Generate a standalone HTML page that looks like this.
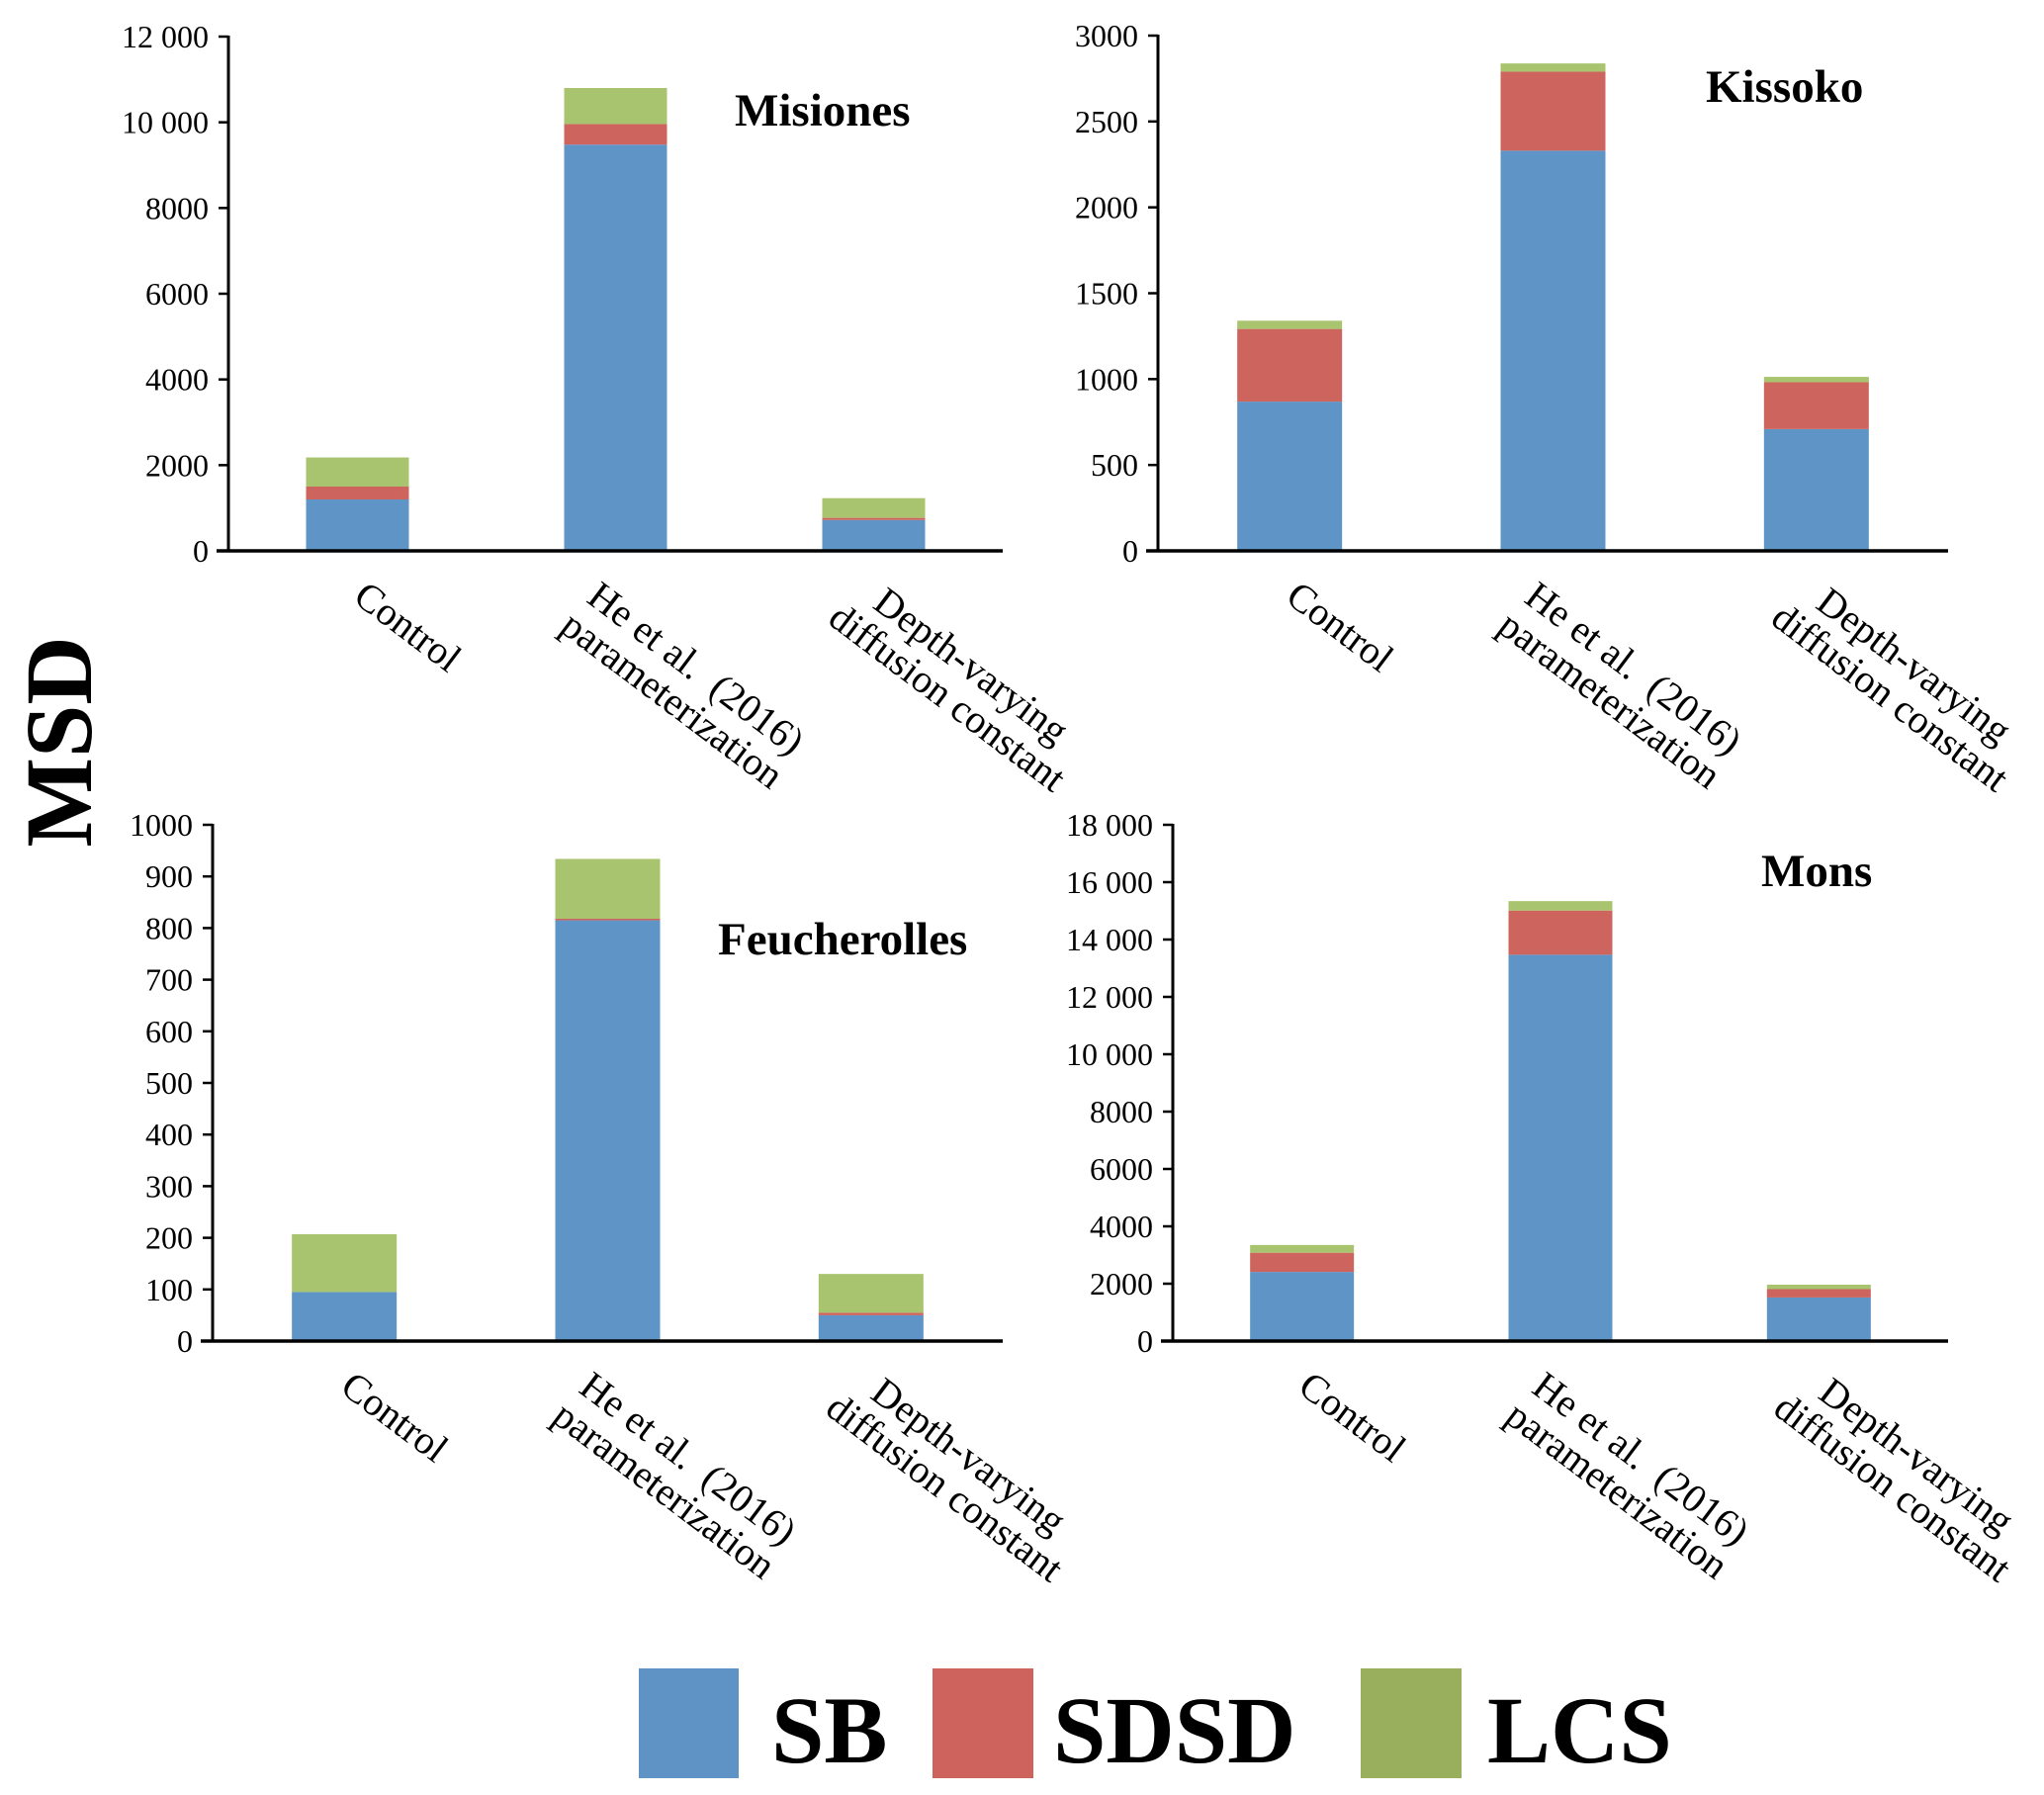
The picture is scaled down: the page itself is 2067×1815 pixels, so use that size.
<!DOCTYPE html>
<html><head><meta charset="utf-8"><style>
html,body{margin:0;padding:0;background:#fff;}
svg{display:block;}
text{font-family:"Liberation Serif",serif;fill:#000;}
</style></head><body>
<svg id="chart" width="2067" height="1815" viewBox="0 0 2067 1815" xmlns="http://www.w3.org/2000/svg">
<text x="0" y="0" transform="translate(92,750) rotate(-90)" text-anchor="middle" font-size="96" font-weight="bold">MSD</text>
<g>
<rect x="646" y="1687" width="101" height="111" fill="#5f93c6"/>
<text x="780" y="1782" font-size="96" font-weight="bold">SB</text>
<rect x="943" y="1687" width="102" height="111" fill="#cd635c"/>
<text x="1065" y="1782" font-size="96" font-weight="bold">SDSD</text>
<rect x="1376" y="1687" width="102" height="111" fill="#9aaf5d"/>
<text x="1504" y="1782" font-size="96" font-weight="bold">LCS</text>
</g>
</svg>
<script>
// Data
const categories = [["Control"], ["He et al.\u00a0\u00a0(2016)", "parameterization"], ["Depth-varying", "diffusion constant"]];
const siteNames = ["Misiones", "Kissoko", "Feucherolles", "Mons"];
const sbMisiones = [1200, 9480, 720];
const sdsdMisiones = [300, 480, 50];
const lcsMisiones = [680, 840, 460];
const sbKissoko = [869, 2330, 709];
const sdsdKissoko = [423, 460, 273];
const lcsKissoko = [48, 48, 31];
const sbFeucherolles = [95, 815, 50];
const sdsdFeucherolles = [0, 3, 5];
const lcsFeucherolles = [112, 116, 75];
const sbMons = [2410, 13470, 1520];
const sdsdMons = [670, 1540, 290];
const lcsMons = [270, 330, 155];
const ticksMisiones = [0, 2000, 4000, 6000, 8000, 10000, 12000];
const ticksKissoko = [0, 500, 1000, 1500, 2000, 2500, 3000];
const ticksFeucherolles = [0, 100, 200, 300, 400, 500, 600, 700, 800, 900, 1000];
const ticksMons = [0, 2000, 4000, 6000, 8000, 10000, 12000, 14000, 16000, 18000];

const NS = "http://www.w3.org/2000/svg";
const svg = document.getElementById("chart");
const colors = ["#5f94c7", "#cd645d", "#a9c46e"];
const seriesNames = ["sb", "sdsd", "lcs"];
function mk(tag, attrs, parent) {
  const e = document.createElementNS(NS, tag);
  for (const k in attrs) e.setAttribute(k, attrs[k]);
  parent.appendChild(e);
  return e;
}
function fmt(v) { return v >= 10000 ? String(Math.floor(v / 1000)) + " " + String(v % 1000).padStart(3, "0") : String(v); }

const panels = [
  {name: siteNames[0], x0: 231, x1: 1014, yTop: 37, yBot: 557, barW: 104, ticks: ticksMisiones, series: [sbMisiones, sdsdMisiones, lcsMisiones], tx: 743, ty: 127},
  {name: siteNames[1], x0: 1171, x1: 1970, yTop: 36, yBot: 557, barW: 106, ticks: ticksKissoko, series: [sbKissoko, sdsdKissoko, lcsKissoko], tx: 1725, ty: 103},
  {name: siteNames[2], x0: 215, x1: 1014, yTop: 834, yBot: 1356, barW: 106, ticks: ticksFeucherolles, series: [sbFeucherolles, sdsdFeucherolles, lcsFeucherolles], tx: 726, ty: 965},
  {name: siteNames[3], x0: 1186, x1: 1970, yTop: 834, yBot: 1356, barW: 105, ticks: ticksMons, series: [sbMons, sdsdMons, lcsMons], tx: 1781, ty: 896}
];
const ang = 37;
const labelOff = [[2, 40], [-38, 54], [-28, 46]];

panels.forEach(function (p) {
  const key = p.name.toLowerCase();
  const g = mk("g", {}, svg);
  
  
  const maxV = p.ticks[p.ticks.length - 1];
  const yS = function (v) { return p.yBot - (v / maxV) * (p.yBot - p.yTop); };
  const bw = (p.x1 - p.x0) / categories.length;
  const xC = function (i) { return p.x0 + bw * (i + 0.5); };
  categories.forEach(function (c, i) {
    let acc = 0;
    p.series.forEach(function (s, k) {
      const v = s[i];
      const r = mk("rect", {x: xC(i) - p.barW / 2, y: yS(acc + v), width: p.barW, height: Math.max(0, yS(acc) - yS(acc + v)), fill: colors[k]}, g);
      
      
      acc += v;
    });
  });
  const ya = mk("line", {x1: p.x0, y1: p.yTop - 1, x2: p.x0, y2: p.yBot + 1.5, stroke: "#000", "stroke-width": 3}, g);
  
  
  p.ticks.forEach(function (t) {
    const yy = yS(t);
    const tm = mk("line", {x1: p.x0 - 10, y1: yy, x2: p.x0, y2: yy, stroke: "#000", "stroke-width": 2.5}, g);
    
    
    const tl = mk("text", {x: p.x0 - 20, y: yy + 11, "text-anchor": "end", "font-size": 32}, g);
    tl.textContent = fmt(t);
    
    
  });
  const xa = mk("line", {x1: p.x0 - 12, y1: p.yBot, x2: p.x1, y2: p.yBot, stroke: "#000", "stroke-width": 3.5}, g);
  
  
  categories.forEach(function (lines, i) {
    const ox = xC(i) + labelOff[i][0], oy = p.yBot + labelOff[i][1];
    const lg = mk("g", {transform: "translate(" + ox + "," + oy + ") rotate(" + ang + ")"}, g);
    
    
    const els = lines.map(function (ln, j) {
      const t = mk("text", {x: 0, y: (j - (lines.length - 1) / 2) * 40 + 13, "font-size": 40, "text-anchor": "middle"}, lg);
      t.textContent = ln;
      return t;
    });
    let maxL = 0;
    els.forEach(function (t) { maxL = Math.max(maxL, t.getComputedTextLength()); });
    els.forEach(function (t) { t.setAttribute("x", maxL / 2); });
  });
  const tt = mk("text", {x: p.tx, y: p.ty, "font-size": 47, "font-weight": "bold"}, g);
  tt.textContent = p.name;
  
  
});
</script>
</body></html>
